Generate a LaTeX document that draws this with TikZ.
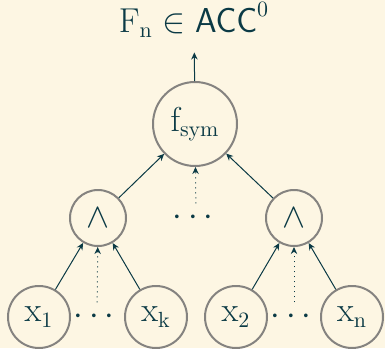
\documentclass[tikz,border=0pt]{standalone}
\usepackage{amsmath}
\usepackage{amssymb}
\usetikzlibrary{arrows.meta}

\definecolor{paper}{HTML}{FDF6E3}
\definecolor{ink}{HTML}{0B3A45}
\definecolor{rim}{HTML}{858380}

\tikzset{
  gate/.style={circle, draw=rim, line width=1pt, inner sep=0pt, text=ink},
  wire/.style={-{Stealth[length=3.5pt,width=3.2pt]}, draw=ink, line width=0.5pt},
  ghost/.style={wire, dotted},
}

\begin{document}
\begin{tikzpicture}[x=0.5pt, y=-0.5pt, font=\fontsize{16}{19}\selectfont, text=ink]
			      \useasboundingbox[fill=paper] (0,0) rectangle (385,348);
			      \node (F) at (194,20) {$\mathrm{F}_\mathrm{n} \in \mathsf{ACC}^0$};
			      \node[gate, minimum size=42pt] (S) at (195,124) {$\mathrm{f}_\mathrm{sym}$};
			      \node[gate, minimum size=28pt] (A1) at (98,218) {$\wedge$};
			      \node[gate, minimum size=28pt] (A2) at (294,218) {$\wedge$};
			      \node (D0) at (196,218) {$\cdots$};
			      \foreach \i/\p/\l in {1/39/1, 2/156/k, 3/236/2, 4/352/n} {
					      \node[gate, minimum size=31pt] (X\i) at (\p,317) {$\mathrm{x}_\mathrm{\l}$};
				      }
			      \node (D1) at (97,317) {$\cdots$};
			      \node (D2) at (294,317) {$\cdots$};
			      \draw[wire, shorten >=4pt] (S) -- (F);
			      \draw[wire] (A1) -- (S);
			      \draw[wire] (A2) -- (S);
			      \draw[ghost] (D0) -- (S);
			      \draw[wire] (X1) -- (A1);
			      \draw[wire] (X2) -- (A1);
			      \draw[ghost] (D1) -- (A1);
			      \draw[wire] (X3) -- (A2);
			      \draw[wire] (X4) -- (A2);
			      \draw[ghost] (D2) -- (A2);
		      \end{tikzpicture}
\end{document}
